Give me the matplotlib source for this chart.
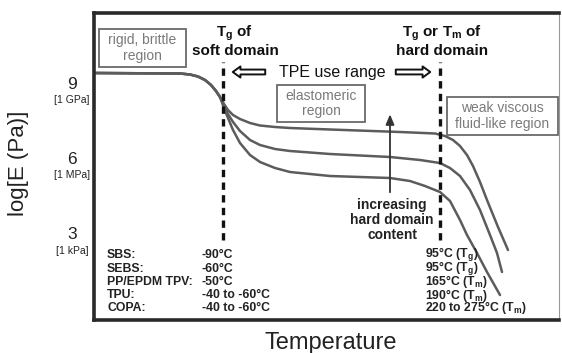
import matplotlib
matplotlib.use("Agg")
import matplotlib.pyplot as plt
from matplotlib.patches import Rectangle, FancyArrowPatch

plt.rcParams['font.family'] = ['Liberation Sans', 'DejaVu Sans']
plt.rcParams['mathtext.fontset'] = 'custom'
plt.rcParams['mathtext.rm'] = 'Liberation Sans'
plt.rcParams['mathtext.bf'] = 'Liberation Sans:bold'
plt.rcParams['mathtext.it'] = 'Liberation Sans:italic'

# ---- data (temperature in arbitrary units 0-465, modulus as log10 E) ----
common_T = [0, 86, 96, 104, 111, 117, 122, 126]
common_E = [9.40, 9.38, 9.34, 9.26, 9.12, 8.92, 8.68, 8.44]

top_T = [130, 134, 139, 146, 156, 166, 181, 196, 236, 306, 341, 351, 359,
         366, 373, 379, 386, 393, 404, 414]
top_E = [8.16, 7.92, 7.72, 7.56, 7.40, 7.30, 7.24, 7.20, 7.14, 7.04, 6.98,
         6.88, 6.72, 6.48, 6.12, 5.68, 5.04, 4.32, 3.24, 2.32]

mid_T = [130, 134, 139, 146, 156, 166, 181, 196, 236, 296, 326, 346, 356,
         366, 376, 386, 396, 403, 408]
mid_E = [8.08, 7.76, 7.44, 7.08, 6.72, 6.52, 6.36, 6.28, 6.16, 6.04, 5.92,
         5.80, 5.60, 5.28, 4.72, 3.92, 2.92, 2.20, 1.44]

bot_T = [130, 134, 139, 146, 156, 166, 181, 196, 236, 296, 316, 331, 346,
         356, 366, 373, 383, 393, 406]
bot_E = [8.00, 7.60, 7.12, 6.60, 6.12, 5.84, 5.60, 5.44, 5.28, 5.20, 5.08,
         4.88, 4.64, 4.28, 3.52, 2.92, 2.20, 1.44, 0.52]

ytick_vals = [9, 6, 3]
ytick_labels = ['9', '6', '3']
ytick_units = ['[1 GPa]', '[1 MPa]', '[1 kPa]']

soft_Tg = 129
hard_T = 346

materials = ['SBS:', 'SEBS:', 'PP/EPDM TPV:', 'TPU:', 'COPA:']
soft_vals = ['-90°C', '-60°C', '-50°C', '-40 to -60°C', '-40 to -60°C']
hard_vals = [r'95°C (T$_\mathbf{g}$)', r'95°C (T$_\mathbf{g}$)',
             r'165°C (T$_\mathbf{m}$)', r'190°C (T$_\mathbf{m}$)',
             r'220 to 275°C (T$_\mathbf{m}$)']
row_y = [2.12, 1.56, 1.04, 0.52, 0.0]

# ---- figure ----
fig = plt.figure(figsize=(5.62, 3.53), dpi=100)
ax = fig.add_axes([94/562, 1-320/353, (559-94)/562, (320-13)/353])
ax.set_xlim(0, 465)
ax.set_ylim(-0.48, 11.8)

curve_color = '#5c5c5c'
for T, E in [(top_T, top_E), (mid_T, mid_E), (bot_T, bot_E)]:
    ax.plot(common_T + T, common_E + E, color=curve_color, lw=1.8,
            solid_joinstyle='round', solid_capstyle='round')

for xv in [soft_Tg, hard_T]:
    ax.plot([xv, xv], [2.72, 9.84], color='#111111', lw=2.4,
            linestyle=(0, (2.2, 1.6)))

for s in ['left', 'top', 'bottom']:
    ax.spines[s].set_linewidth(2.6)
    ax.spines[s].set_color('#2a2a2a')
ax.spines['right'].set_linewidth(0.8)
ax.spines['right'].set_color('#999999')

ax.set_xticks([])
ax.set_yticks(ytick_vals)
ax.set_yticklabels(ytick_labels, fontsize=12.5, color='#222222')
ax.tick_params(axis='y', length=0, pad=15.8)
for lab in ax.get_yticklabels():
    lab.set_ha('center')
for v, u in zip(ytick_vals, ytick_units):
    ax.text(-0.0473, v - 0.7, u, transform=ax.get_yaxis_transform(),
            ha='center', va='center', fontsize=7.5, color='#222222')

fig.text(19/562, 1-163/353, 'log[E (Pa)]', rotation=90, ha='center',
         va='center', fontsize=16, color='#222222')
fig.text(331/562, 1-343/353, 'Temperature', ha='center', va='center',
         fontsize=17, color='#222222')

# boxes
gray = '#7a7a7a'
boxes = [((5, 9.64), 87, 1.52, 'rigid, brittle\nregion'),
         ((183, 7.44), 88, 1.48, 'elastomeric\nregion'),
         ((353, 6.92), 111, 1.52, 'weak viscous\nfluid-like region')]
for (x0, y0), w, h, txt in boxes:
    ax.add_patch(Rectangle((x0, y0), w, h, fill=False, edgecolor='#6a6a6a',
                           lw=1.3))
    ax.text(x0 + w/2, y0 + h/2, txt, ha='center', va='center',
            fontsize=10, color=gray, linespacing=1.15)

ax.text(141, 10.68, 'T$_\\mathbf{g}$ of\nsoft domain', ha='center',
        va='center', fontsize=11, fontweight='bold', color='#111111',
        linespacing=1.05)
ax.text(348, 10.68, 'T$_\\mathbf{g}$ or T$_\\mathbf{m}$ of\nhard domain',
        ha='center', va='center', fontsize=11, fontweight='bold',
        color='#111111', linespacing=1.05)

ax.text(238, 9.44, 'TPE use range', ha='center', va='center',
        fontsize=11.5, color='#111111')
for xa, xb in [(174, 136), (299, 339)]:
    ax.add_patch(FancyArrowPatch((xa, 9.44), (xb, 9.44),
                 arrowstyle='simple,head_width=8,head_length=5.5,tail_width=3.5',
                 mutation_scale=1, facecolor='white', edgecolor='#111111',
                 lw=1.4))

ax.annotate('', xy=(296, 7.86), xytext=(296, 4.52),
            arrowprops=dict(arrowstyle='-|>,head_width=0.25,head_length=0.6',
                            color='#333333', lw=1.3))
ax.text(298, 3.52, 'increasing\nhard domain\ncontent', ha='center',
        va='center', fontsize=10, fontweight='bold', color='#222222',
        linespacing=1.05)

for y, m, sv, hv in zip(row_y, materials, soft_vals, hard_vals):
    ax.text(13, y, m, ha='left', va='center', fontsize=8.8,
            fontweight='bold', color='#222222')
    ax.text(108, y, sv, ha='left', va='center', fontsize=8.8,
            fontweight='bold', color='#222222')
    ax.text(331, y, hv, ha='left', va='center', fontsize=8.8,
            fontweight='bold', color='#222222')

fig.savefig('out.png', dpi=100)
